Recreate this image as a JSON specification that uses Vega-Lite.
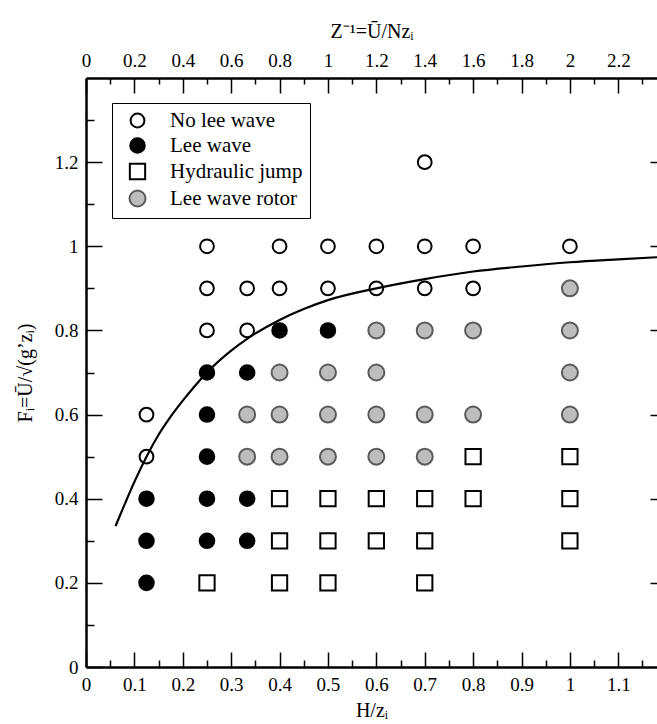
{
  "$schema": "https://vega.github.io/schema/vega-lite/v6.json",
  "width": 571,
  "height": 589,
  "autosize": "none",
  "padding": {"left": 86, "top": 78, "right": 0, "bottom": 57},
  "background": "white",
  "config": {
    "view": {"stroke": null},
    "font": "Liberation Serif",
    "style": {
      "guide-label": {"font": "Liberation Serif", "fontSize": 19, "fill": "black"},
      "guide-title": {"font": "Liberation Serif", "fontSize": 20, "fill": "black", "fontWeight": "normal"}
    },
    "axis": {
      "labelFont": "Liberation Serif",
      "titleFont": "Liberation Serif",
      "labelFontSize": 19,
      "titleFontSize": 20,
      "titleFontWeight": "normal",
      "labelColor": "black",
      "titleColor": "black",
      "domainColor": "black",
      "tickColor": "black",
      "domainWidth": 2.5,
      "tickWidth": 1.5,
      "grid": false,
      "labelFlush": false,
      "labelOverlap": false
    },
    "legend": {"labelFont": "Liberation Serif"}
  },
  "datasets": {
    "pts": [
      {"H": 0.7, "F": 1.2, "regime": "No lee wave"},
      {"H": 0.25, "F": 1.0, "regime": "No lee wave"},
      {"H": 0.4, "F": 1.0, "regime": "No lee wave"},
      {"H": 0.5, "F": 1.0, "regime": "No lee wave"},
      {"H": 0.6, "F": 1.0, "regime": "No lee wave"},
      {"H": 0.7, "F": 1.0, "regime": "No lee wave"},
      {"H": 0.8, "F": 1.0, "regime": "No lee wave"},
      {"H": 1.0, "F": 1.0, "regime": "No lee wave"},
      {"H": 0.25, "F": 0.9, "regime": "No lee wave"},
      {"H": 0.333, "F": 0.9, "regime": "No lee wave"},
      {"H": 0.4, "F": 0.9, "regime": "No lee wave"},
      {"H": 0.5, "F": 0.9, "regime": "No lee wave"},
      {"H": 0.6, "F": 0.9, "regime": "No lee wave"},
      {"H": 0.7, "F": 0.9, "regime": "No lee wave"},
      {"H": 0.8, "F": 0.9, "regime": "No lee wave"},
      {"H": 1.0, "F": 0.9, "regime": "Lee wave rotor"},
      {"H": 0.25, "F": 0.8, "regime": "No lee wave"},
      {"H": 0.333, "F": 0.8, "regime": "No lee wave"},
      {"H": 0.4, "F": 0.8, "regime": "Lee wave"},
      {"H": 0.5, "F": 0.8, "regime": "Lee wave"},
      {"H": 0.6, "F": 0.8, "regime": "Lee wave rotor"},
      {"H": 0.7, "F": 0.8, "regime": "Lee wave rotor"},
      {"H": 0.8, "F": 0.8, "regime": "Lee wave rotor"},
      {"H": 1.0, "F": 0.8, "regime": "Lee wave rotor"},
      {"H": 0.25, "F": 0.7, "regime": "Lee wave"},
      {"H": 0.333, "F": 0.7, "regime": "Lee wave"},
      {"H": 0.4, "F": 0.7, "regime": "Lee wave rotor"},
      {"H": 0.5, "F": 0.7, "regime": "Lee wave rotor"},
      {"H": 0.6, "F": 0.7, "regime": "Lee wave rotor"},
      {"H": 1.0, "F": 0.7, "regime": "Lee wave rotor"},
      {"H": 0.125, "F": 0.6, "regime": "No lee wave"},
      {"H": 0.25, "F": 0.6, "regime": "Lee wave"},
      {"H": 0.333, "F": 0.6, "regime": "Lee wave rotor"},
      {"H": 0.4, "F": 0.6, "regime": "Lee wave rotor"},
      {"H": 0.5, "F": 0.6, "regime": "Lee wave rotor"},
      {"H": 0.6, "F": 0.6, "regime": "Lee wave rotor"},
      {"H": 0.7, "F": 0.6, "regime": "Lee wave rotor"},
      {"H": 0.8, "F": 0.6, "regime": "Lee wave rotor"},
      {"H": 1.0, "F": 0.6, "regime": "Lee wave rotor"},
      {"H": 0.125, "F": 0.5, "regime": "No lee wave"},
      {"H": 0.25, "F": 0.5, "regime": "Lee wave"},
      {"H": 0.333, "F": 0.5, "regime": "Lee wave rotor"},
      {"H": 0.4, "F": 0.5, "regime": "Lee wave rotor"},
      {"H": 0.5, "F": 0.5, "regime": "Lee wave rotor"},
      {"H": 0.6, "F": 0.5, "regime": "Lee wave rotor"},
      {"H": 0.7, "F": 0.5, "regime": "Lee wave rotor"},
      {"H": 0.8, "F": 0.5, "regime": "Hydraulic jump"},
      {"H": 1.0, "F": 0.5, "regime": "Hydraulic jump"},
      {"H": 0.125, "F": 0.4, "regime": "Lee wave"},
      {"H": 0.25, "F": 0.4, "regime": "Lee wave"},
      {"H": 0.333, "F": 0.4, "regime": "Lee wave"},
      {"H": 0.4, "F": 0.4, "regime": "Hydraulic jump"},
      {"H": 0.5, "F": 0.4, "regime": "Hydraulic jump"},
      {"H": 0.6, "F": 0.4, "regime": "Hydraulic jump"},
      {"H": 0.7, "F": 0.4, "regime": "Hydraulic jump"},
      {"H": 0.8, "F": 0.4, "regime": "Hydraulic jump"},
      {"H": 1.0, "F": 0.4, "regime": "Hydraulic jump"},
      {"H": 0.125, "F": 0.3, "regime": "Lee wave"},
      {"H": 0.25, "F": 0.3, "regime": "Lee wave"},
      {"H": 0.333, "F": 0.3, "regime": "Lee wave"},
      {"H": 0.4, "F": 0.3, "regime": "Hydraulic jump"},
      {"H": 0.5, "F": 0.3, "regime": "Hydraulic jump"},
      {"H": 0.6, "F": 0.3, "regime": "Hydraulic jump"},
      {"H": 0.7, "F": 0.3, "regime": "Hydraulic jump"},
      {"H": 1.0, "F": 0.3, "regime": "Hydraulic jump"},
      {"H": 0.125, "F": 0.2, "regime": "Lee wave"},
      {"H": 0.25, "F": 0.2, "regime": "Hydraulic jump"},
      {"H": 0.4, "F": 0.2, "regime": "Hydraulic jump"},
      {"H": 0.5, "F": 0.2, "regime": "Hydraulic jump"},
      {"H": 0.7, "F": 0.2, "regime": "Hydraulic jump"}
    ],
    "curve": [
      {"H": 0.061, "F": 0.335},
      {"H": 0.08, "F": 0.387},
      {"H": 0.1, "F": 0.44},
      {"H": 0.125, "F": 0.5},
      {"H": 0.15, "F": 0.552},
      {"H": 0.175, "F": 0.595},
      {"H": 0.2, "F": 0.633},
      {"H": 0.225, "F": 0.668},
      {"H": 0.25, "F": 0.7},
      {"H": 0.3, "F": 0.752},
      {"H": 0.333, "F": 0.78},
      {"H": 0.4, "F": 0.825},
      {"H": 0.45, "F": 0.851},
      {"H": 0.5, "F": 0.872},
      {"H": 0.6, "F": 0.9},
      {"H": 0.7, "F": 0.922},
      {"H": 0.8, "F": 0.94},
      {"H": 0.9, "F": 0.952},
      {"H": 1.0, "F": 0.962},
      {"H": 1.1, "F": 0.969},
      {"H": 1.18, "F": 0.974}
    ]
  },
  "layer": [
    {
      "data": {"name": "curve"},
      "mark": {"type": "line", "interpolate": "monotone", "stroke": "black", "strokeWidth": 2.2},
      "encoding": {
        "x": {
          "field": "H", "type": "quantitative",
          "scale": {"domain": [0, 1.18], "nice": false, "zero": false},
          "axis": {
            "orient": "bottom", "title": "H/zᵢ", "ticks": false, "domain": true,
            "values": [0, 0.1, 0.2, 0.3, 0.4, 0.5, 0.6, 0.7, 0.8, 0.9, 1, 1.1],
            "format": "~g",
            "labelFont": "Liberation Serif", "labelFontSize": 19,
            "titleFont": "Liberation Serif", "titleFontSize": 20,
            "labelPadding": 8, "titlePadding": 6
          }
        },
        "y": {
          "field": "F", "type": "quantitative",
          "scale": {"domain": [0, 1.4], "nice": false, "zero": false},
          "axis": {
            "orient": "left", "title": "Fᵢ=Ū/√(g’zᵢ)", "ticks": false, "domain": true,
            "values": [0, 0.2, 0.4, 0.6, 0.8, 1, 1.2],
            "format": "~g",
            "labelFont": "Liberation Serif", "labelFontSize": 19,
            "titleFont": "Liberation Serif", "titleFontSize": 20,
            "labelPadding": 8, "titlePadding": 19
          }
        }
      }
    },
    {
      "data": {"name": "pts"},
      "mark": {"type": "point", "opacity": 1, "strokeWidth": 2},
      "encoding": {
        "x": {
          "field": "H", "type": "quantitative",
          "axis": {
            "orient": "bottom", "title": null, "labels": false, "domain": false,
            "tickSize": -15, "values": [0, 0.1, 0.2, 0.3, 0.4, 0.5, 0.6, 0.7, 0.8, 0.9, 1, 1.1]
          }
        },
        "y": {
          "field": "F", "type": "quantitative",
          "axis": {
            "orient": "left", "title": null, "labels": false, "domain": false,
            "tickSize": -16, "values": [0, 0.2, 0.4, 0.6, 0.8, 1, 1.2]
          }
        },
        "shape": {
          "field": "regime", "type": "nominal",
          "scale": {
            "domain": ["No lee wave", "Lee wave", "Hydraulic jump", "Lee wave rotor"],
            "range": ["circle", "circle", "square", "circle"]
          },
          "legend": {
            "orient": "none", "legendX": 26, "legendY": 25, "title": null,
            "strokeColor": "black", "fillColor": "white", "padding": 7,
            "labelFont": "Liberation Serif",
            "labelFontSize": 21, "labelColor": "black", "labelOffset": 22,
            "symbolOffset": 8,
            "rowPadding": 2, "symbolStrokeWidth": 2
          }
        },
        "fill": {
          "field": "regime", "type": "nominal",
          "scale": {
            "domain": ["No lee wave", "Lee wave", "Hydraulic jump", "Lee wave rotor"],
            "range": ["transparent", "black", "transparent", "#bdbdbd"]
          }
        },
        "stroke": {
          "field": "regime", "type": "nominal",
          "scale": {
            "domain": ["No lee wave", "Lee wave", "Hydraulic jump", "Lee wave rotor"],
            "range": ["black", "black", "black", "#5a5a5a"]
          }
        },
        "size": {
          "field": "regime", "type": "nominal",
          "scale": {
            "domain": ["No lee wave", "Lee wave", "Hydraulic jump", "Lee wave rotor"],
            "range": [190, 256, 196, 256]
          }
        }
      }
    },
    {
      "data": {"name": "curve"},
      "mark": {"type": "point", "opacity": 0},
      "encoding": {
        "x": {
          "field": "H", "type": "quantitative",
          "axis": {
            "orient": "bottom", "title": null, "labels": false, "domain": false,
            "tickSize": -7, "values": [0.05, 0.15, 0.25, 0.35, 0.45, 0.55, 0.65, 0.75, 0.85, 0.95, 1.05, 1.15]
          }
        },
        "y": {
          "field": "F", "type": "quantitative",
          "axis": {
            "orient": "left", "title": null, "labels": false, "domain": false,
            "tickSize": -8, "values": [0.1, 0.3, 0.5, 0.7, 0.9, 1.1, 1.3]
          }
        }
      }
    },
    {
      "data": {"name": "curve"},
      "mark": {"type": "point", "opacity": 0},
      "encoding": {
        "x": {
          "field": "H", "type": "quantitative",
          "axis": {
            "orient": "top", "title": "Z⁻¹=Ū/Nzᵢ", "ticks": false, "domain": true,
            "values": [0, 0.1, 0.2, 0.3, 0.4, 0.5, 0.6, 0.7, 0.8, 0.9, 1, 1.1],
            "labelExpr": "format(datum.value * 2, '~g')",
            "labelFont": "Liberation Serif", "labelFontSize": 19,
            "titleFont": "Liberation Serif", "titleFontSize": 20,
            "labelPadding": 8, "titlePadding": 10
          }
        },
        "y": {
          "field": "F", "type": "quantitative",
          "axis": {
            "orient": "right", "title": null, "labels": false, "domain": false,
            "tickSize": -7, "values": [0.2, 0.4, 0.6, 0.8, 1, 1.2]
          }
        }
      }
    },
    {
      "data": {"name": "curve"},
      "mark": {"type": "point", "opacity": 0},
      "encoding": {
        "x": {
          "field": "H", "type": "quantitative",
          "axis": {
            "orient": "top", "title": null, "labels": false, "domain": false,
            "tickSize": -15, "values": [0, 0.1, 0.2, 0.3, 0.4, 0.5, 0.6, 0.7, 0.8, 0.9, 1, 1.1]
          }
        },
        "y": {"field": "F", "type": "quantitative", "axis": null}
      }
    },
    {
      "data": {"name": "curve"},
      "mark": {"type": "point", "opacity": 0},
      "encoding": {
        "x": {
          "field": "H", "type": "quantitative",
          "axis": {
            "orient": "top", "title": null, "labels": false, "domain": false,
            "tickSize": -6, "values": [0.05, 0.15, 0.25, 0.35, 0.45, 0.55, 0.65, 0.75, 0.85, 0.95, 1.05, 1.15]
          }
        },
        "y": {"field": "F", "type": "quantitative", "axis": null}
      }
    }
  ],
  "resolve": {"axis": {"x": "independent", "y": "independent"}}
}
